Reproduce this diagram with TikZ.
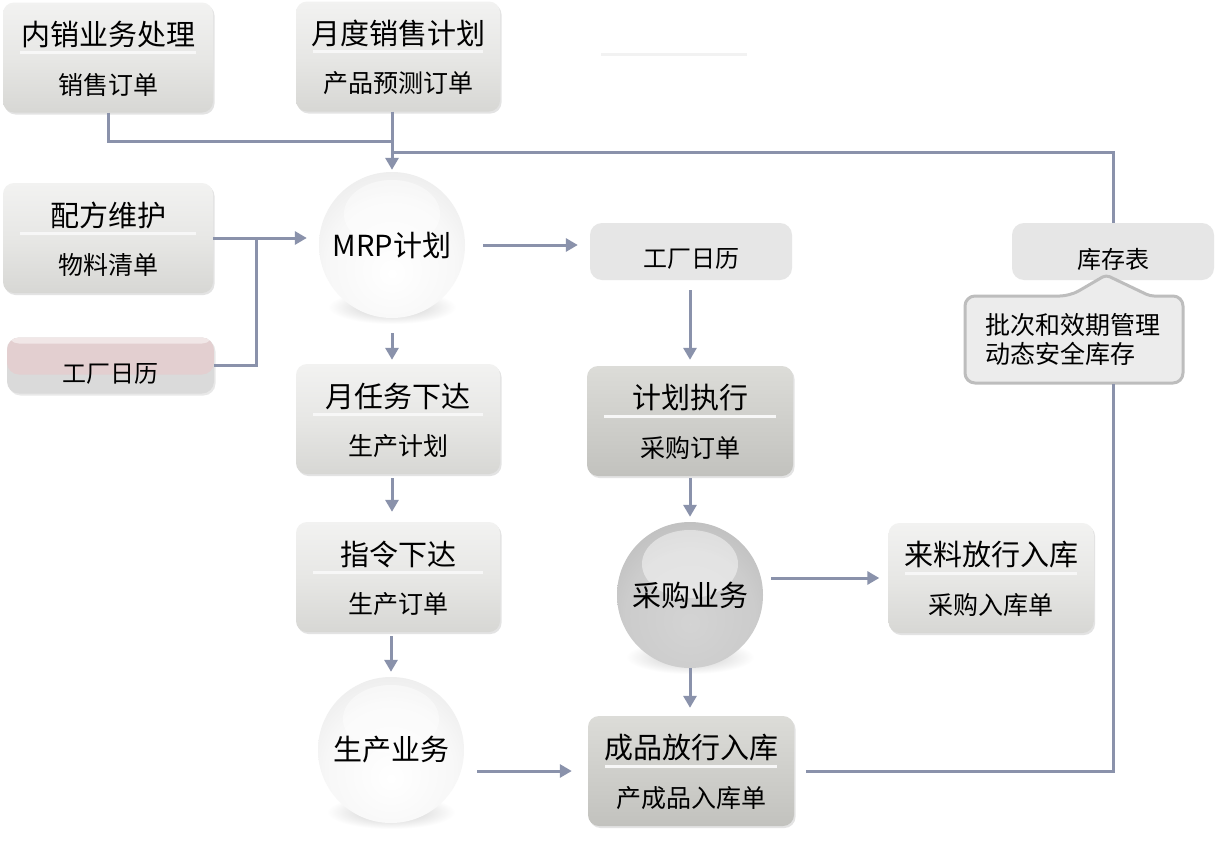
\documentclass[tikz,border=0pt]{standalone}
\usepackage{fontspec}
\setmainfont{Noto Sans CJK SC}
\usetikzlibrary{arrows.meta,shadows,calc}
\definecolor{lineC}{HTML}{8A92AB}
\definecolor{boxTop}{HTML}{F2F2F1}
\definecolor{boxMid}{HTML}{E7E7E5}
\definecolor{boxBot}{HTML}{D7D7D4}
\definecolor{dTop}{HTML}{DCDCD8}
\definecolor{dMid}{HTML}{CFCFCB}
\definecolor{dBot}{HTML}{C2C2BE}
\definecolor{flatC}{HTML}{E6E6E6}
\definecolor{glC}{HTML}{DADADA}
\definecolor{pinkC}{HTML}{E3CFD0}
\definecolor{coC}{HTML}{ECECEC}
\definecolor{coB}{HTML}{BDBDBD}
\pgfdeclareradialshading{lightsphere}{\pgfpoint{0bp}{-10bp}}{color(0bp)=(white); color(22bp)=(white!97!black); color(46bp)=(white!87!black); color(70bp)=(white!82!black)}
\pgfdeclareradialshading{darksphere}{\pgfpoint{0bp}{-10bp}}{color(0bp)=(white!83!black); color(22bp)=(white!80!black); color(46bp)=(white!68!black); color(70bp)=(white!62!black)}
\newcommand{\glossbox}[7]{%
  \node[#5, minimum width=#4pt] (#1) at (#2,#3) {};
  \draw[sepline] ($(#1.west)+(17,-5)$) -- ($(#1.east)+(-17,-5)$);
  \node[ttltxt] (#1t) at ($(#1.center)+(0,-23)$) {#6};
  \node[subtxt] (#1s) at ($(#1.center)+(0,27)$) {#7};
}
\begin{document}
\begin{tikzpicture}[x=1pt, y=-1pt,
  conn/.style={draw=lineC, line width=3pt},
  arr/.style={conn, -{Triangle[width=13pt,length=12pt]}},
  gbox/.style={rounded corners=11pt, minimum height=110pt, top color=boxTop, bottom color=boxBot, middle color=boxMid, drop shadow={shadow xshift=1.5pt, shadow yshift=-2pt, opacity=0.22}},
  dbox/.style={gbox, top color=dTop, bottom color=dBot, middle color=dMid},
  fbox/.style={rounded corners=12pt, fill=flatC, minimum height=57pt, minimum width=202pt},
  fbtxt/.style={font=\fontsize{24}{28}\selectfont, inner sep=0pt},
  ttltxt/.style={font=\fontsize{29}{33}\selectfont, inner sep=0pt},
  subtxt/.style={font=\fontsize{25}{29}\selectfont, inner sep=0pt},
  sepline/.style={draw=white!97!black, line width=3pt},
  sph/.style={circle, minimum size=146pt, inner sep=0pt, shade, shading=lightsphere, font=\fontsize{29}{33}\selectfont,
    path picture={\fill[white, opacity=0.45] ($(path picture bounding box.north)+(0,42)$) ellipse (48 and 34);}},
  calloutshape/.style={fill=coC, draw=coB, line width=3pt, rounded corners=10pt},
]
\useasboundingbox (0,0) rectangle (1216,846);
\fill[white] (0,0) rectangle (1216,846);

% faint stray rule
\draw[line width=3pt, draw=black!5] (601,54) -- (747,54);

% sphere shadows
\foreach \x/\y in {392/245, 391/750, 690/595}
  \shade[inner color=black!22, outer color=white] (\x,\y+62) ellipse (64 and 17);

% glossy boxes
\glossbox{ns}{108}{57.5}{210}{gbox}{内销业务处理}{销售订单}
\glossbox{yd}{398}{56.5}{204}{gbox}{月度销售计划}{产品预测订单}
\glossbox{pf}{108}{238}{210}{gbox}{配方维护}{物料清单}
\glossbox{yr}{398}{419}{204}{gbox}{月任务下达}{生产计划}
\glossbox{zl}{398}{577}{204}{gbox}{指令下达}{生产订单}
\glossbox{jh}{690}{421}{206}{dbox}{计划执行}{采购订单}
\glossbox{ll}{991}{578}{205}{gbox}{来料放行入库}{采购入库单}
\glossbox{cp}{691}{771}{206}{dbox}{成品放行入库}{产成品入库单}

% flat boxes
\node[fbox] (gr) at (691,251.5) {};
\node[fbtxt] (grt) at (691,259) {工厂日历};
\node[fbox] (kc) at (1113,251.5) {};
\node[fbtxt] (kct) at (1113,259) {库存表};
\node[fbox, fill=glC, minimum width=207pt, minimum height=56pt,
  drop shadow={shadow xshift=1.5pt, shadow yshift=-2pt, opacity=0.18},
  path picture={\fill[pinkC] (path picture bounding box.north west) rectangle ($(path picture bounding box.east)+(0,9)$);
                \fill[white, opacity=0.5] (path picture bounding box.north west) rectangle ($(path picture bounding box.north east)+(0,6)$);}] (gl) at (110.5,365.5) {};
\node[fbtxt] (glt) at (110.5,374) {工厂日历};

% spheres
\node[sph] (mrp) at (392,245) {MRP计划};
\node[sph] (sc) at (391,750) {生产业务};
\node[sph, shading=darksphere] (cg) at (690,595) {采购业务};

% callout
\draw[calloutshape] (1070,296) [rounded corners=4pt] -- (1106,275) -- (1150,296) [rounded corners=10pt] -- (1183,296)
  -- (1183,383) -- (965,383) -- (965,296) -- cycle;
\node[minimum width=218pt, minimum height=88pt, text width=178pt, align=left, inner xsep=20pt,
  font=\fontsize{25}{29}\selectfont] (co) at (1074,339.5) {批次和效期管理\\动态安全库存};

% connectors
\coordinate (j1) at (392,141);
\coordinate (j2) at (392,152);
\coordinate (j3) at (256,238);
\coordinate (j4) at (co.south -| kc.north);
\draw[conn] (ns.south) |- (j1);
\draw[arr, shorten >=2pt] (yd.south -| mrp.north) -- (mrp.north);
\draw[conn] (kc.north) |- (j2);
\draw[arr, shorten >=12pt] (pf.east) -- (pf.east -| mrp.west);
\draw[conn] (gl.east) -| (j3);
\draw[arr, shorten <=18pt, shorten >=12pt] (mrp.east) -- (mrp.east -| gr.west);
\draw[arr, shorten <=15pt, shorten >=4pt] (mrp.south) -- (mrp.south |- yr.north);
\draw[arr, shorten <=4pt, shorten >=10pt] (yr.south -| mrp.south) -- (zl.north -| mrp.south);
\draw[arr, shorten <=4pt, shorten >=5pt] (zl.south -| sc.north) -- (sc.north);
\draw[arr, shorten <=13pt, shorten >=16pt] (sc.east |- cp.west) -- (cp.west);
\draw[arr, shorten <=10pt, shorten >=6pt] (gr.south -| cg.north) -- (jh.north -| cg.north);
\draw[arr, shorten <=2pt, shorten >=5pt] (jh.south -| cg.north) -- (cg.north);
\draw[arr, shorten >=8pt] (cg.south) -- (cg.south |- cp.north);
\draw[arr, shorten <=8pt, shorten >=9pt] (ll.west -| cg.east) -- (ll.west);
\draw[conn, shorten <=12pt] (cp.east) -| (j4);
\end{tikzpicture}
\end{document}
